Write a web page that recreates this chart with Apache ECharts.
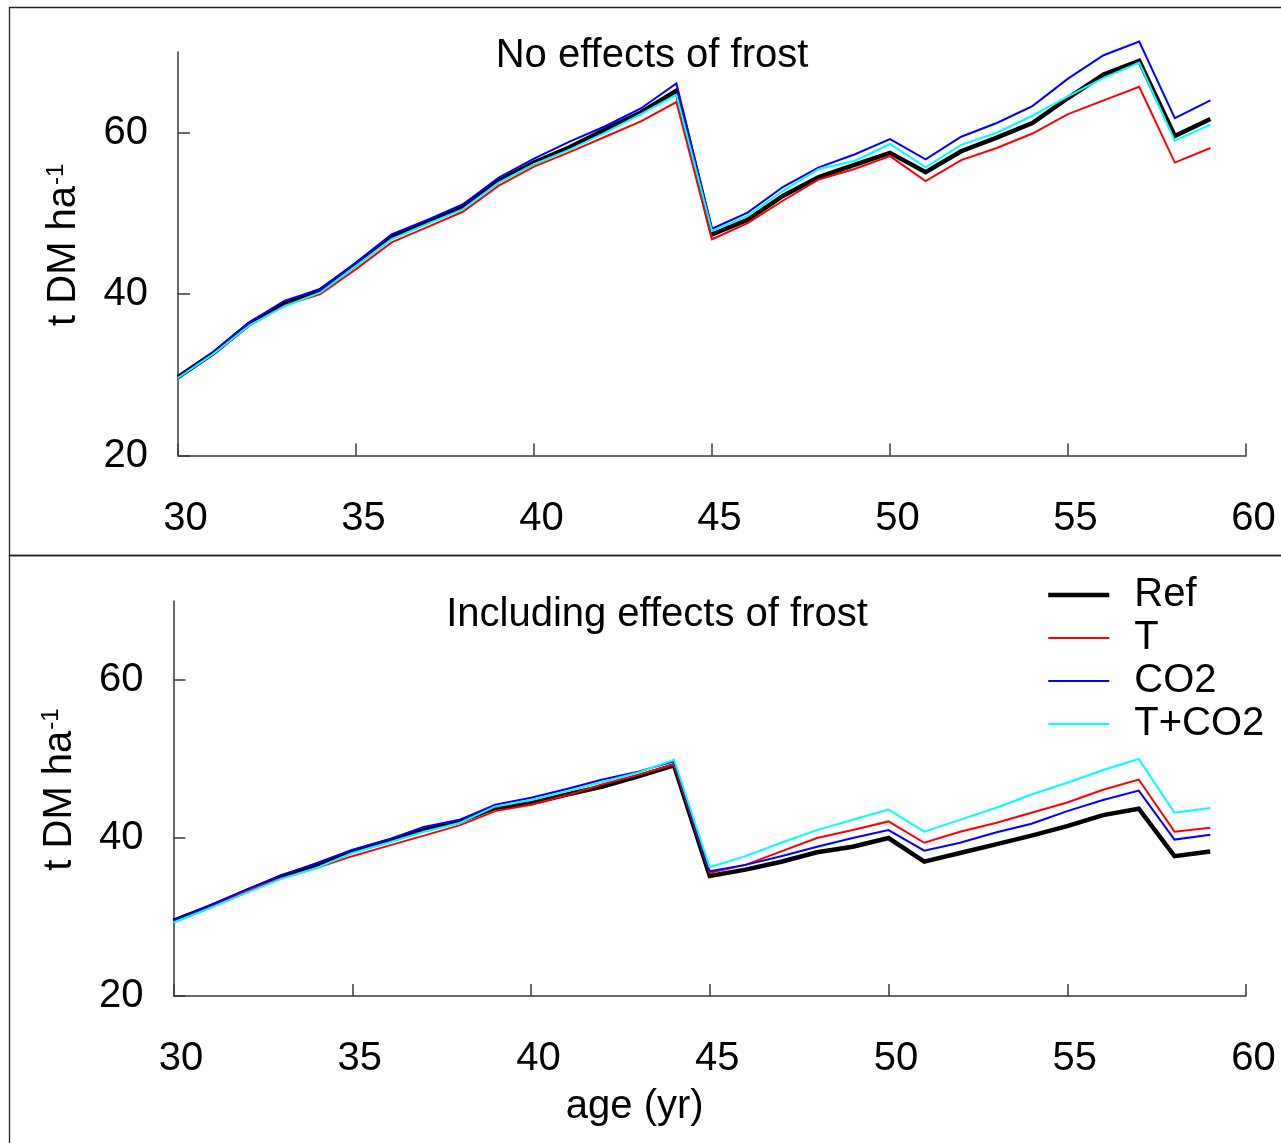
<!DOCTYPE html>
<html>
<head>
<meta charset="utf-8">
<script src="https://cdn.jsdelivr.net/npm/echarts@6/dist/echarts.min.js"></script>
<style>
  html, body { margin: 0; padding: 0; background: #fff; }
  #chart { width: 1281px; height: 1143px; }
</style>
</head>
<body>
<div id="chart"></div>
<script>
// Stand age (years)
const ages = [30, 31, 32, 33, 34, 35, 36, 37, 38, 39, 40, 41, 42, 43, 44,
              45, 46, 47, 48, 49, 50, 51, 52, 53, 54, 55, 56, 57, 58, 59];
const xTicks = [30, 35, 40, 45, 50, 55, 60];
const yTicks = [20, 40, 60];
const seriesNames = ['Ref', 'T', 'CO2', 'T+CO2'];

// Standing biomass (t DM ha-1), no effects of frost
const refNoFrost = [29.7, 32.7, 36.3, 38.9, 40.5, 43.7, 47.1, 48.9, 50.9, 54.0, 56.3, 58.2, 60.4, 62.5, 65.2,
                    47.4, 49.2, 52.2, 54.5, 56.0, 57.5, 55.1, 57.7, 59.4, 61.2, 64.3, 67.2, 68.9, 59.6, 61.7];
const tNoFrost = [29.7, 32.6, 36.1, 38.6, 40.0, 43.1, 46.4, 48.3, 50.2, 53.4, 55.8, 57.6, 59.5, 61.4, 63.8,
                  46.8, 48.8, 51.6, 54.2, 55.5, 57.1, 54.0, 56.6, 58.1, 59.9, 62.3, 64.0, 65.7, 56.3, 58.1];
const co2NoFrost = [29.7, 32.8, 36.5, 39.2, 40.6, 43.9, 47.4, 49.2, 51.1, 54.4, 56.8, 58.9, 60.8, 63.0, 66.1,
                    48.1, 50.1, 53.3, 55.7, 57.3, 59.2, 56.7, 59.5, 61.2, 63.3, 66.7, 69.6, 71.3, 61.8, 64.0];
const tco2NoFrost = [29.6, 32.6, 36.1, 38.5, 40.2, 43.5, 46.8, 48.7, 50.5, 53.8, 56.1, 57.9, 60.0, 62.3, 64.7,
                     47.8, 49.7, 52.8, 55.5, 56.5, 58.6, 55.7, 58.5, 60.0, 62.1, 64.5, 66.8, 68.7, 59.0, 61.0];

// Standing biomass (t DM ha-1), including effects of frost
const refFrost = [29.5, 31.3, 33.2, 35.1, 36.6, 38.3, 39.6, 41.0, 42.1, 43.8, 44.4, 45.5, 46.5, 47.8, 49.2,
                  35.2, 36.0, 37.0, 38.2, 38.9, 40.0, 37.0, 38.1, 39.2, 40.3, 41.5, 42.9, 43.7, 37.7, 38.3];
const tFrost = [29.4, 31.3, 33.2, 34.9, 36.2, 37.7, 39.0, 40.3, 41.6, 43.4, 44.2, 45.4, 46.8, 48.0, 49.3,
                35.6, 36.6, 38.3, 40.0, 41.0, 42.1, 39.4, 40.8, 41.9, 43.2, 44.5, 46.1, 47.4, 40.8, 41.3];
const co2Frost = [29.5, 31.4, 33.4, 35.2, 36.8, 38.5, 39.8, 41.4, 42.3, 44.2, 45.1, 46.2, 47.4, 48.4, 49.7,
                  35.8, 36.6, 37.7, 38.9, 40.0, 41.0, 38.4, 39.4, 40.7, 41.8, 43.4, 44.8, 46.0, 39.8, 40.4];
const tco2Frost = [29.3, 31.1, 33.0, 34.8, 36.2, 38.1, 39.4, 40.8, 41.9, 44.0, 44.8, 45.9, 47.1, 48.3, 49.9,
                   36.3, 37.7, 39.4, 41.0, 42.3, 43.6, 40.8, 42.3, 43.8, 45.5, 47.0, 48.6, 50.0, 43.2, 43.8];

const FONT = '"Liberation Sans", Arial, Helvetica, sans-serif';
const AXIS_COLOR = '#3a3a3a';
const COLORS = { 'Ref': '#000000', 'T': '#ff0000', 'CO2': '#0000ff', 'T+CO2': '#00ffff' };
const WIDTHS = { 'Ref': 4.5, 'T': 2, 'CO2': 2, 'T+CO2': 2 };

function pairs(values) {
  return ages.map((a, i) => [a, values[i]]);
}

function xAxisFor(gridIndex, name) {
  return {
    type: 'value', gridIndex: gridIndex, min: 30, max: 60, interval: 5,
    axisLine: { show: true, onZero: false, lineStyle: { color: AXIS_COLOR, width: 1.5 } },
    axisTick: { show: true, inside: true, length: 12, customValues: xTicks,
                lineStyle: { color: AXIS_COLOR, width: 1.5 } },
    axisLabel: { customValues: xTicks, fontSize: 40, color: '#000', fontFamily: FONT,
                 margin: 43, padding: [0, 0, 0, 15] },
    splitLine: { show: false },
    name: name, nameLocation: 'middle', nameGap: 91,
    nameTextStyle: { fontSize: 40, color: '#000', fontFamily: FONT, padding: [0, 150, 0, 0] }
  };
}

function yAxisFor(gridIndex) {
  return {
    type: 'value', gridIndex: gridIndex, min: 20, max: 70, interval: 20,
    axisLine: { show: true, onZero: false, lineStyle: { color: AXIS_COLOR, width: 1.5 } },
    axisTick: { show: true, inside: true, length: 12, customValues: yTicks,
                lineStyle: { color: AXIS_COLOR, width: 1.5 } },
    axisLabel: { customValues: yTicks, fontSize: 40, color: '#000', fontFamily: FONT, margin: 30 },
    splitLine: { show: false },
    name: '{n|t DM ha}{s|-1}', nameLocation: 'middle', nameGap: 94, nameRotate: 90,
    nameTextStyle: {
      color: '#000', fontFamily: FONT, fontSize: 40, padding: [0, 0, 0, 18],
      rich: {
        n: { fontSize: 40, fontFamily: FONT, color: '#000' },
        s: { fontSize: 24, fontFamily: FONT, color: '#000', verticalAlign: 'top', padding: [0, 0, 14, 1] }
      }
    }
  };
}

function panelSeries(gridIndex, sets) {
  return seriesNames.map((nm, k) => ({
    name: nm, type: 'line', xAxisIndex: gridIndex, yAxisIndex: gridIndex,
    data: pairs(sets[k]), symbol: 'none', showSymbol: false, smooth: false, clip: false,
    lineStyle: { color: COLORS[nm], width: WIDTHS[nm], join: 'miter' },
    itemStyle: { color: COLORS[nm] },
    emphasis: { disabled: true }, silent: true, z: 2 + k
  }));
}

const chart = echarts.init(document.getElementById('chart'), null, { renderer: 'canvas' });

chart.setOption({
  animation: false,
  backgroundColor: '#ffffff',
  grid: [
    { left: 178, top: 52, width: 1068, height: 403.5 },
    { left: 173.5, top: 601, width: 1072.5, height: 395 }
  ],
  xAxis: [xAxisFor(0, ''), xAxisFor(1, 'age (yr)')],
  yAxis: [yAxisFor(0), yAxisFor(1)],
  legend: {
    data: seriesNames.map(nm => ({ name: nm, lineStyle: { width: WIDTHS[nm], color: COLORS[nm] } })),
    orient: 'vertical', left: 1046, top: 575, padding: 0,
    itemWidth: 61, itemHeight: 14, itemGap: 3,
    selectedMode: false,
    itemStyle: { opacity: 0 },
    textStyle: { fontSize: 40, color: '#000', fontFamily: FONT, lineHeight: 40, padding: [0, 0, 0, 20] }
  },
  graphic: [
    { type: 'rect', silent: true, z: 0,
      shape: { x: 9.5, y: 7.5, width: 1300, height: 548 },
      style: { fill: 'none', stroke: '#222', lineWidth: 1.3 } },
    { type: 'rect', silent: true, z: 0,
      shape: { x: 9.5, y: 555.5, width: 1300, height: 700 },
      style: { fill: 'none', stroke: '#222', lineWidth: 1.3 } },
    { type: 'text', silent: true, x: 652, y: 56,
      style: { text: 'No effects of frost', fontSize: 40, fontFamily: FONT, fill: '#000',
               align: 'center', verticalAlign: 'middle' } },
    { type: 'text', silent: true, x: 657, y: 615,
      style: { text: 'Including effects of frost', fontSize: 40, fontFamily: FONT, fill: '#000',
               align: 'center', verticalAlign: 'middle' } }
  ],
  series: [
    ...panelSeries(0, [refNoFrost, tNoFrost, co2NoFrost, tco2NoFrost]),
    ...panelSeries(1, [refFrost, tFrost, co2Frost, tco2Frost])
  ]
});
</script>
</body>
</html>
